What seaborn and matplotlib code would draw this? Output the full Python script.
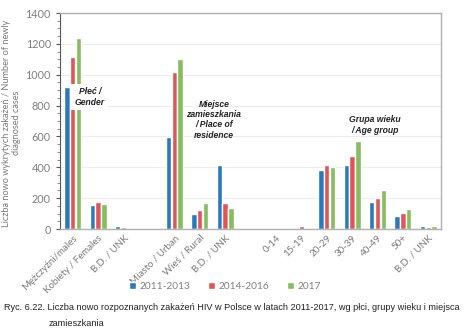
import matplotlib
matplotlib.use("Agg")
import matplotlib.pyplot as plt
import seaborn as sns
import pandas as pd
from matplotlib.ticker import MultipleLocator

# ---- data ----
categories = ["Mężczyźni/males", "Kobiety / Females", "B.D. / UNK", "",
              "Miasto / Urban", "Wieś / Rural", "B.D. / UNK", "",
              "0-14", "15-19", "20-29", "30-39", "40-49", "50+", "B.D. / UNK"]
series = ["2011-2013", "2014-2016", "2017"]
v_2011_2013 = [920, 156, 17, None, 598, 98, 412, None, 3, 9, 382, 412, 174, 82, 17]
v_2014_2016 = [1117, 177, 13, None, 1020, 126, 167, None, 2, 17, 416, 476, 200, 106, 15]
v_2017 = [1241, 160, 0, None, 1105, 167, 133, None, 2, 9, 404, 568, 254, 131, 22]
colors = ["#2b79b8", "#e05558", "#86bd5e"]
caption_1 = "Ryc. 6.22. Liczba nowo rozpoznanych zakażeń HIV w Polsce w latach 2011-2017, wg płci, grupy wieku i miejsca"
caption_2 = "zamieszkania"

slots = [f"s{i}" for i in range(len(categories))]
rows = []
for s, a, b, c in zip(slots, v_2011_2013, v_2014_2016, v_2017):
    for name, v in zip(series, (a, b, c)):
        if v is not None:
            rows.append({"slot": s, "period": name, "value": v})
df = pd.DataFrame(rows)

sns.set_style("white")
plt.rcParams["font.family"] = ["Lato", "DejaVu Sans"]

fig = plt.figure(figsize=(4.74, 3.34), dpi=100)
ax = fig.add_axes([60 / 474, 1 - 229 / 334, (441 - 60) / 474, (229 - 13) / 334])

sns.barplot(data=df, x="slot", y="value", hue="period", order=slots,
            hue_order=series, palette=colors, width=0.68, gap=0.08,
            saturation=1, ax=ax, legend=True)

ax.set_xlim(-0.5, len(categories) - 0.5)
ax.set_ylim(0, 1400)
ax.yaxis.set_major_locator(MultipleLocator(200))
ax.yaxis.set_minor_locator(MultipleLocator(50))
ax.grid(axis="y", color="#ececec", linewidth=0.8)
ax.set_axisbelow(True)

ax.set_xticks(range(len(categories)))
ax.set_xticklabels(categories, rotation=45, ha="right", rotation_mode="anchor",
                   fontsize=7, color="#7a7a7a")
ax.tick_params(axis="x", length=0, pad=3)
ax.tick_params(axis="y", which="major", length=3, color="#555555",
               labelsize=7.8, labelcolor="#808080", direction="out", left=True)
ax.tick_params(axis="y", which="minor", length=2, color="#777777", left=True)

for sp in ["top", "right", "bottom"]:
    ax.spines[sp].set_color("#b0b0b0")
    ax.spines[sp].set_linewidth(1.0)
ax.spines["left"].set_color("#555555")
ax.spines["left"].set_linewidth(0.8)

ax.set_xlabel("")
ax.set_ylabel("Liczba nowo wykrytych zakażeń / Number of newly\ndiagnosed cases",
              fontsize=6.6, color="#7a7a7a", linespacing=1.1)
ax.yaxis.set_label_coords(-0.103, 0.49)

ann = dict(fontsize=6.2, fontweight="bold", fontstyle="italic", color="#222222",
           ha="center", va="center", family="Liberation Sans", zorder=5)
ax.text(0.68, 855, "Płeć /\nGender",
        bbox=dict(facecolor="white", edgecolor="none", pad=2.5), **ann)
ax.text(5.56, 708, "Miejsce\nzamieszkania\n/ Place of\nresidence", **ann)
ax.text(11.9, 674, "Grupa wieku\n/ Age group", **ann)

leg = ax.legend(loc="center", bbox_to_anchor=(0.433, -0.268), ncol=3,
                frameon=False, fontsize=7.3, handlelength=0.7, handleheight=0.7,
                handletextpad=0.3, columnspacing=1.8)
for t in leg.get_texts():
    t.set_color("#808080")

cap_family = ["Liberation Sans Narrow", "Liberation Sans", "DejaVu Sans"]
t1 = fig.text(4 / 474, 1 - 308 / 334, caption_1, fontsize=8.5, color="#222222",
              va="center", ha="left", family=cap_family)
fig.canvas.draw()
w = t1.get_window_extent().width
target = 452.0
fs = 8.5 * target / w
t1.set_fontsize(fs)
fig.text(49 / 474, 1 - 323 / 334, caption_2, fontsize=fs, color="#222222",
         va="center", ha="left", family=cap_family)

fig.savefig("out.png", dpi=100)
